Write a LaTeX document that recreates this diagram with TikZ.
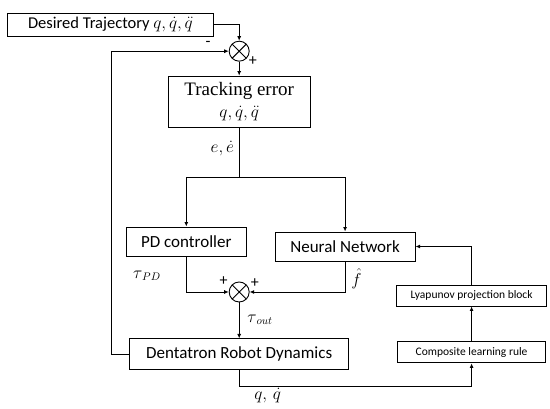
\documentclass[tikz,border=0pt]{standalone}
\usepackage{fontspec}
\setmainfont{Carlito}
\newfontfamily\trackfont{Liberation Serif}
\usetikzlibrary{arrows.meta,positioning}

\begin{document}
\begin{tikzpicture}[
    node distance=20pt and 20pt,
    block/.style={draw, line width=0.9pt, align=center, inner sep=2pt, font=\fontsize{17}{20}\selectfont},
    smallblock/.style={draw, line width=0.9pt, align=center, inner sep=2pt, minimum height=21pt, font=\fontsize{11.5}{13}\selectfont},
    summ/.style={draw, circle, line width=0.9pt, minimum size=20pt, inner sep=0pt,
      path picture={\draw[line width=0.9pt] (path picture bounding box.north west) -- (path picture bounding box.south east)
        (path picture bounding box.north east) -- (path picture bounding box.south west);}},
    lbl/.style={inner sep=1pt, font=\fontsize{16}{18}\selectfont},
    arrow/.style={-{Latex[length=4.5pt, width=4pt]}, line width=0.9pt},
    line/.style={line width=0.9pt}
  ]
    \useasboundingbox (0,0) rectangle (550pt,-409pt);

    \node[block, anchor=north west, minimum width=206pt, minimum height=23pt, font=\fontsize{16.5}{19}\selectfont] (des) at (7pt,-13pt) {Desired Trajectory $q,\dot{q},\ddot{q}$};
    \node[summ, below right=6.9pt and 17.9pt of des] (s1) {};
    \node[block, below=14pt of s1, minimum width=142pt, minimum height=51pt, font=\trackfont\fontsize{19}{22}\selectfont] (track) {Tracking error\\$q,\dot{q},\ddot{q}$};
    \node[block, below left=99pt and -79pt of track, minimum width=120pt, minimum height=29pt] (pd) {PD controller};
    \node[block, below right=104pt and -36pt of track, minimum width=140pt, minimum height=29pt] (nn) {Neural Network};
    \node[summ, below=154pt of track] (s2) {};
    \node[block, below=36pt of s2, minimum width=219pt, minimum height=31pt] (dyn) {Dentatron Robot Dynamics};
    \node[smallblock, right=48pt of dyn, yshift=2pt, minimum width=148pt] (comp) {Composite learning rule};
    \node[smallblock, above=35pt of comp, minimum width=150pt] (lyap) {Lyapunov projection block};

    % signs and signal labels
    \node[lbl, left=17pt of s1, yshift=7pt] (m1) {-};
    \node[lbl, below right=-3pt and 1pt of s1] (p1) {+};
    \node[lbl, below left=12pt and 4pt of track.south] (err) {$e,\dot{e}$};
    \node[lbl, below right=13pt and 6pt of pd.south west] (tpd) {$\tau_{\,PD}$};
    \node[lbl, above left=-2pt and 3pt of s2] (p2) {+};
    \node[lbl, above right=-4pt and 3pt of s2] (p3) {+};
    \node[lbl, below right=6pt and 5pt of nn.south] (fh) {$\hat{f}$};
    \node[lbl, below right=11pt and 7pt of s2.south] (tout) {$\tau_{\,out}$};

    \draw[arrow] (des.east) -| (s1.north);
    \draw[arrow] (s1.south) -- (track.north);
    \coordinate[below=50pt of track] (split);
    \draw[line] (track.south) -- (split);
    \draw[arrow] (split) -| (pd.north);
    \draw[arrow] (split) -| (nn.north);
    \draw[arrow] (pd.south) |- (s2.west);
    \draw[arrow] (nn.south) |- (s2.east);
    \draw[arrow] (s2.south) -- (dyn.north);
    \draw[arrow] (dyn.west) -- ++(-18pt,0) |- (s1.west);
    \draw[arrow] (dyn.south) -- ++(0,-16pt) coordinate (dq) -| (comp.south);
    \draw[arrow] (comp.north) -- (lyap.south);
    \draw[arrow] (lyap.north) |- (nn.east);
    \node[lbl, below right=1pt and 14pt of dq] (qout) {$q,\,\dot{q}$};
  \end{tikzpicture}
\end{document}
